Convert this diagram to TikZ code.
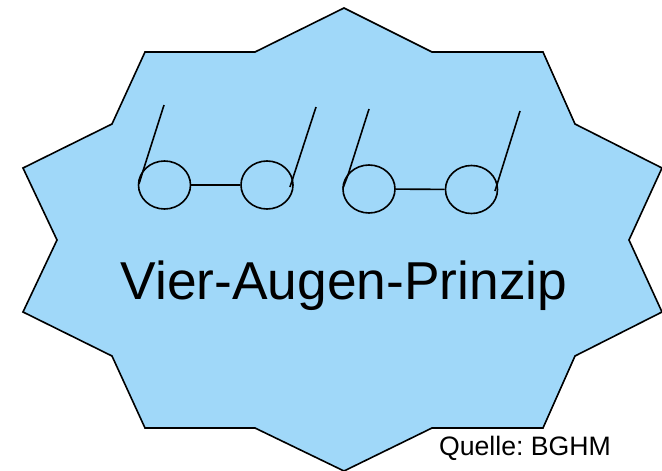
\documentclass[tikz,border=0pt]{standalone}
\usepackage{fontspec}
\setmainfont{Liberation Sans}
\usepackage{xcolor}
\usetikzlibrary{shapes.geometric}
\definecolor{starblue}{RGB}{160,216,249}
\frenchspacing

\begin{document}
\begin{tikzpicture}[x=0.75pt,y=-0.75pt,line width=1.2pt,line join=miter,
     lens/.style={ellipse,draw,minimum width=39pt,minimum height=36pt,inner sep=0pt},
     bignote/.style={anchor=base,font=\fontsize{40}{48}\selectfont},
     srcnote/.style={anchor=base,font=\fontsize{20}{24}\selectfont}]
    \useasboundingbox (0,0) rectangle (662,471);
    \draw[fill=starblue] (344,8) -- (432,52) -- (543,52) -- (575,124) -- (662,168)
      -- (629,240) -- (662,312) -- (575,356) -- (543,428) -- (432,428) -- (344,471)
      -- (255,428) -- (145,428) -- (112,356) -- (23,312) -- (57,240) -- (23,168)
      -- (112,124) -- (145,52) -- (255,52) -- cycle;
    % left pair
    \node[lens] (lensa) at (164.5,185) {};
    \node[lens] (lensb) at (267,185) {};
    \draw (lensa) -- (lensb);
    \coordinate (tipa) at (164,105);
    \coordinate (tipb) at (316,107);
    \draw (tipa) -- (143,171) -- (139,184);
    \draw (tipb) -- (290,187);
    % right pair
    \node[lens] (lensc) at (369,189) {};
    \node[lens] (lensd) at (471.5,189.5) {};
    \draw (lensc) -- (lensd);
    \coordinate (tipc) at (369,109);
    \coordinate (tipd) at (520,111);
    \draw (tipc) -- (348,175) -- (343,188);
    \draw (tipd) -- (495,191);
    \node[bignote] (title) at (344,299.5) {Vier-Augen-Prinzip};
    \node[srcnote] (source) at (525,455.5) {Quelle: BGHM};
  \end{tikzpicture}
\end{document}
